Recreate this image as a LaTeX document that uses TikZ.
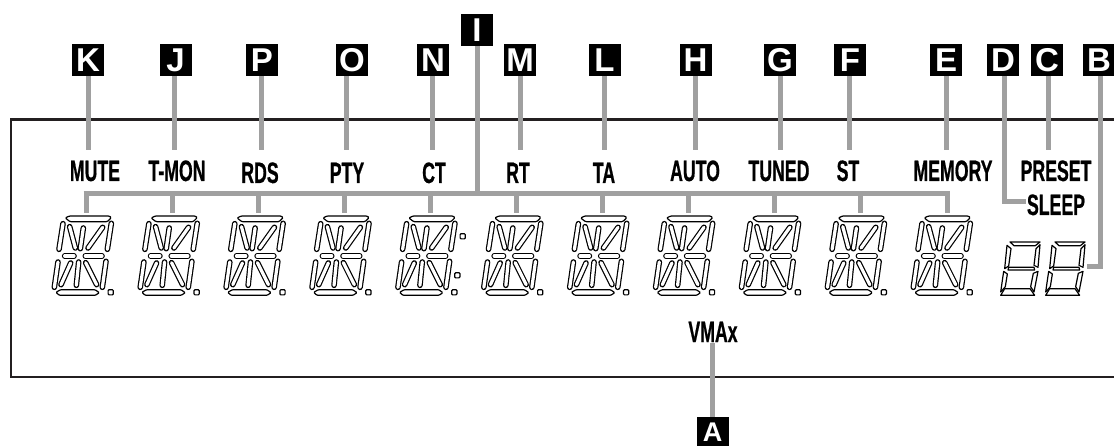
\documentclass[tikz,border=0pt]{standalone}
\usepackage{fontspec}
\newfontfamily\lab[FakeStretch=0.6,FakeBold=0.6]{Liberation Sans}
\newfontfamily\boxfont{Liberation Sans}
\definecolor{lead}{HTML}{A0A0A0}
\definecolor{frame}{HTML}{231F20}
\tikzset{
  framed/.style={draw=frame,line width=2.3pt},
  leadline/.style={draw=lead,line width=5pt},
  letterbox/.style={fill=black,text=white,minimum size=32pt,inner sep=0pt,text height=23.5pt,text depth=0pt,font=\fontsize{33}{33}\boxfont\bfseries},
  disp/.style={anchor=base,inner sep=0pt,font=\fontsize{29.5}{29.5}\lab\bfseries},
  segout/.style={draw=black,line width=1.2pt,rounded corners=1pt,fill=white},
  capouter/.style={draw=black,line width=5.6pt,line cap=round},
  capinner/.style={draw=white,line width=3.2pt,line cap=round},
  sevenseg/.style={draw=black,line width=1.2pt,line join=round}
}
\newcommand{\capsule}[4]{%
  \draw[capouter] (#1,#2) -- (#3,#4);
  \draw[capinner] (#1,#2) -- (#3,#4);}
\newcommand{\dotsq}[2]{\draw[segout] (#1-2.6,#2-2.6) rectangle (#1+2.6,#2+2.6);}
\begin{document}
\begin{tikzpicture}[x=1pt,y=-1pt]
\useasboundingbox (0,0) rectangle (1114,446);
\clip (0,0) rectangle (1114,446);
% display frame
\draw[framed] (1115,119.5) -- (11,119.5) -- (11,377) -- (1115,377);
% 14-segment digits
\foreach \i in {0,...,10}{
 \begin{scope}[shift={(50+85.9*\i,180)},x=0.33333pt,y=-0.33333pt]
  \draw[segout] (46,114) -- (58,108) -- (178,108) -- (184,113) -- (172,125) -- (60,125) -- cycle;
  \draw[segout] (18,337) -- (32,329) -- (135,329) -- (148,338) -- (136,346) -- (28,346) -- cycle;
  \capsule{39}{131}{27}{208}
  \capsule{59}{140}{76}{204}
  \capsule{100}{144}{91}{206}
  \capsule{158}{142}{114}{204}
  \capsule{184}{130}{172}{208}
  \capsule{44}{228}{72}{228}
  \capsule{106}{228}{156}{228}
  \capsule{24}{246}{13}{322}
  \capsule{62}{249}{33}{314}
  \capsule{86}{246}{79}{316}
  \capsule{107}{248}{140}{314}
  \capsule{168}{244}{157}{322}
 \end{scope}
 \dotsq{110.7+85.9*\i}{292.3}
}
\dotsq{462.7}{236.3}
\dotsq{457.3}{275.3}
% 7-segment digits
\foreach \j in {0,1}{
 \begin{scope}[shift={(960+45*\j,60)},x=0.33333pt,y=-0.33333pt]
  \draw[sevenseg] (150,546) -- (240,546) -- (226,557) -- (162,557) -- cycle;
  \draw[sevenseg] (141,556) -- (153,566) -- (146,618) -- (134,626) -- cycle;
  \draw[sevenseg] (240,554) -- (234,622) -- (222,616) -- (228,566) -- cycle;
  \draw[sevenseg] (146,622) -- (222,622) -- (224,630) -- (144,630) -- cycle;
  \draw[sevenseg] (131,634) -- (142,642) -- (136,680) -- (122,696) -- cycle;
  \draw[sevenseg] (234,634) -- (222,696) -- (212,680) -- (220,640) -- cycle;
  \draw[sevenseg] (134,686) -- (210,686) -- (224,706) -- (122,706) -- cycle;
 \end{scope}
}
% letter boxes
\node[letterbox] (K) at (88,60) {K};
\node[letterbox] (J) at (175.5,60) {J};
\node[letterbox] (P) at (262,60) {P};
\node[letterbox] (O) at (352,60) {O};
\node[letterbox] (N) at (433,60) {N};
\node[letterbox] (I) at (477,30) {I};
\node[letterbox] (M) at (520,60) {M};
\node[letterbox] (L) at (604.5,60) {L};
\node[letterbox] (H) at (695.5,60) {H};
\node[letterbox] (G) at (780,60) {G};
\node[letterbox] (F) at (850,60) {F};
\node[letterbox] (E) at (946,60) {E};
\node[letterbox] (D) at (1003,60) {D};
\node[letterbox] (C) at (1047,60) {C};
\node[letterbox] (B) at (1099,60) {B};
\node[letterbox,minimum height=29pt,minimum width=32pt,text height=19.3pt,font=\fontsize{27}{27}\boxfont\bfseries] (A) at (712.5,431.5) {A};
% display labels
\node[disp] (mute) at (95,181) {MUTE};
\node[disp] (tmon) at (177,181) {T-MON};
\node[disp] (rds) at (260,183) {RDS};
\node[disp] (pty) at (347,183) {PTY};
\node[disp] (ct) at (434,183) {CT};
\node[disp] (rt) at (518,183) {RT};
\node[disp] (ta) at (604,183) {TA};
\node[disp] (auto) at (695,181) {AUTO};
\node[disp] (tuned) at (779,181) {TUNED};
\node[disp] (st) at (848,181) {ST};
\node[disp] (memory) at (953,181) {MEMORY};
\node[disp] (preset) at (1056,181) {PRESET};
\node[disp] (sleep) at (1056,215) {SLEEP};
\node[disp] (vmax) at (713,342) {VMAx};
% leads to labels
\foreach \n/\xx in {K/88,J/174,P/261,O/346,N/432,M/520,L/604,H/695.5,G/780.5,F/849.5,E/946,C/1048}{
  \coordinate (end\n) at (\xx,150);
  \draw[leadline] (\n.south -| end\n) -- (end\n);
}
\coordinate (endA) at (712,343);
\draw[leadline] (A.north -| endA) -- (endA);
% leads with bends
\coordinate (endD) at (1026,201.5);
\draw[leadline] (D.south -| 1004,0) -- (1004,201.5) -- (endD);
\coordinate (endB) at (1087,267);
\draw[leadline] (B.south -| 1100,0) -- (1100,267) -- (endB);
% bus to 14-segment digits
\coordinate (busL) at (83.5,194);
\coordinate (busR) at (949.5,194);
\draw[leadline] (busL) -- (busR);
\draw[leadline] (I.south -| 477,0) -- (477,194);
\foreach \i in {0,...,10}{
  \coordinate (stub\i) at (86+86.1*\i,213);
  \draw[leadline] (stub\i |- busL) -- (stub\i);
}
\end{tikzpicture}
\end{document}
